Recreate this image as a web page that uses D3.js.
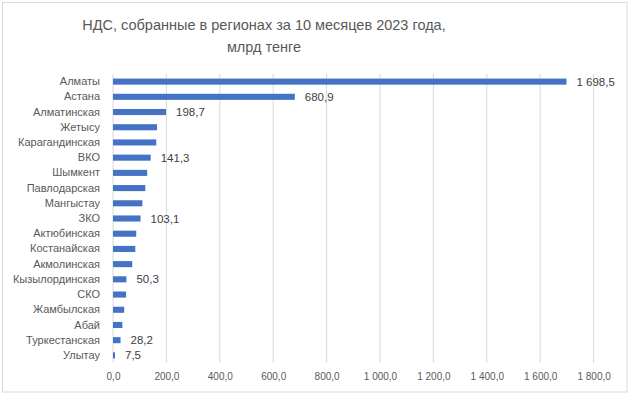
<!DOCTYPE html>
<html>
<head>
<meta charset="utf-8">
<script src="https://cdn.jsdelivr.net/npm/d3@7"></script>
<style>
  body { margin: 0; background: #fff; }
  svg text { font-family: "Liberation Sans", Arial, sans-serif; }
</style>
</head>
<body>
<svg id="chart"></svg>
<script>
// regions, top to bottom
const regions = ["Алматы","Астана","Алматинская","Жетысу","Карагандинская","ВКО","Шымкент",
  "Павлодарская","Мангыстау","ЗКО","Актюбинская","Костанайская","Акмолинская",
  "Кызылординская","СКО","Жамбылская","Абай","Туркестанская","Улытау"];
const vatValues = [1698.5,680.9,198.7,165,162,141.3,128,121,110,103.1,87,83.5,72,50.3,49,42,35,28.2,7.5];
// which bars carry a data label
const labelled = [true,true,true,false,false,true,false,false,false,true,false,false,false,true,false,false,false,true,true];
const xTicks = [0,200,400,600,800,1000,1200,1400,1600,1800];
const titleLines = ["НДС, собранные в регионах за 10 месяцев 2023 года,", "млрд тенге"];

const width = 629, height = 396;
const margin = {top: 74, right: 36, bottom: 33, left: 113};
const innerW = width - margin.left - margin.right;
const innerH = height - margin.top - margin.bottom;

const fmt = v => d3.format(",.1f")(v).replace(/,/g, " ").replace(".", ",");

const svg = d3.select("#chart").attr("width", width).attr("height", height);

// chart border
svg.append("rect")
  .attr("x", 2.5).attr("y", 2.5)
  .attr("width", 624.5).attr("height", 389.5)
  .attr("fill", "#fff").attr("stroke", "#d9d9d9");

svg.append("g").selectAll("text")
  .data(titleLines)
  .join("text")
    .attr("x", 264)
    .attr("y", (d, i) => 30 + i * 22)
    .attr("text-anchor", "middle")
    .attr("font-size", 14.5)
    .attr("fill", "#595959")
    .text(d => d);

const chart = svg.append("g").attr("transform", `translate(${margin.left},${margin.top})`);

const x = d3.scaleLinear().domain([0, 1800]).range([0, 480.6]);
const y = d3.scaleBand().domain(regions).range([0, innerH]).paddingInner(0.6).paddingOuter(0.3);

// vertical gridlines
chart.append("g")
  .selectAll("line")
  .data(xTicks)
  .join("line")
    .attr("x1", d => x(d)).attr("x2", d => x(d))
    .attr("y1", 0).attr("y2", innerH)
    .attr("stroke", "#d9d9d9");

// x axis labels
const xAxis = chart.append("g")
  .attr("transform", `translate(0,${innerH})`)
  .call(d3.axisBottom(x).tickValues(xTicks).tickFormat(fmt).tickSize(0).tickPadding(10));
xAxis.select(".domain").remove();
xAxis.selectAll("text").attr("font-size", 10).attr("fill", "#595959")
  .style("font-family", "\"Liberation Sans\", Arial, sans-serif");

// category labels
const yAxis = chart.append("g")
  .call(d3.axisLeft(y).tickSize(0).tickPadding(13));
yAxis.select(".domain").remove();
yAxis.selectAll("text").attr("font-size", 11).attr("fill", "#595959")
  .style("font-family", "\"Liberation Sans\", Arial, sans-serif");

const rows = regions.map((r, i) => ({region: r, value: vatValues[i], show: labelled[i]}));

chart.append("g")
  .selectAll("rect")
  .data(rows)
  .join("rect")
    .attr("x", x(0))
    .attr("y", d => y(d.region))
    .attr("width", d => x(d.value) - x(0))
    .attr("height", y.bandwidth())
    .attr("fill", "#4472c4");

chart.append("g")
  .selectAll("text")
  .data(rows.filter(d => d.show))
  .join("text")
    .attr("x", d => x(d.value) + 10)
    .attr("y", d => y(d.region) + y.bandwidth() / 2)
    .attr("dy", "0.35em")
    .attr("font-size", 11.5)
    .attr("fill", "#404040")
    .text(d => fmt(d.value));
</script>
</body>
</html>
